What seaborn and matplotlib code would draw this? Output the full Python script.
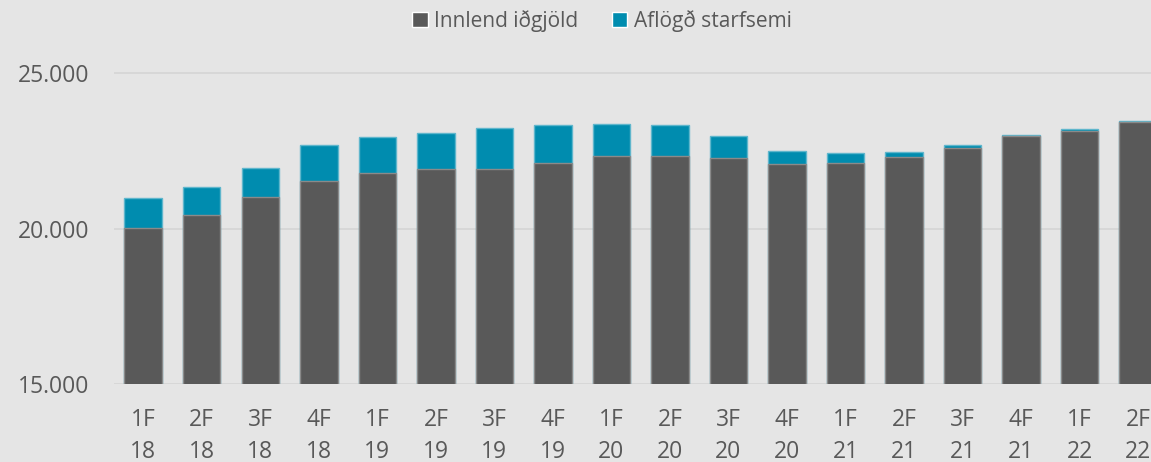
import matplotlib
matplotlib.use("Agg")
import matplotlib.pyplot as plt
import matplotlib.ticker as mticker
from matplotlib.patches import Patch
import seaborn as sns

# Quarters (F = fjórðungur) and years
quarters = ["1F", "2F", "3F", "4F", "1F", "2F", "3F", "4F", "1F", "2F",
            "3F", "4F", "1F", "2F", "3F", "4F", "1F", "2F"]
years = ["18", "18", "18", "18", "19", "19", "19", "19", "20", "20",
         "20", "20", "21", "21", "21", "21", "22", "22"]

# Values
innlend = [20020, 20420, 21000, 21520, 21790, 21900, 21930, 22100, 22320, 22340,
           22260, 22090, 22100, 22290, 22590, 22980, 23140, 23440]
aflogd = [965, 920, 955, 1170, 1150, 1180, 1300, 1220, 1040, 1000,
          730, 390, 345, 165, 85, 45, 65, 22]

labels = [q + "\n" + y for q, y in zip(quarters, years)]
totals = [a + b for a, b in zip(innlend, aflogd)]

grey = "#595959"
teal = "#008caf"
bg = "#e5e5e5"
txt = "#595959"

sns.set_theme(style="white", rc={"axes.facecolor": bg, "figure.facecolor": bg})
plt.rcParams["font.family"] = ["Open Sans", "DejaVu Sans"]

fig = plt.figure(figsize=(11.51, 4.62), dpi=100)
ax = fig.add_axes([0.099, 0.169, 0.901, 0.74])

sns.barplot(x=labels, y=totals, color=teal, width=0.64, saturation=1,
            edgecolor="#5fb6cc", linewidth=1, ax=ax)
sns.barplot(x=labels, y=innlend, color=grey, width=0.64, saturation=1,
            edgecolor="#8a8a8a", linewidth=1, ax=ax)

ax.set_ylim(15000, 26000)
ax.set_xlim(-0.5, 17.22)
ax.set_yticks([15000, 20000, 25000])
ax.yaxis.set_major_formatter(mticker.FuncFormatter(lambda v, p: f"{v:,.0f}".replace(",", ".")))
ax.grid(axis="y", color="#d6d6d6", linewidth=1.3)
ax.set_axisbelow(True)
for s in ax.spines.values():
    s.set_visible(False)
ax.tick_params(axis="both", length=0, labelsize=16.5, colors=txt)
ax.tick_params(axis="y", pad=18)
ax.tick_params(axis="x", pad=17)
for t in ax.get_xticklabels():
    t.set_linespacing(1.45)
ax.set_xlabel("")
ax.set_ylabel("")

handles = [Patch(facecolor=grey, label="Innlend iðgjöld"),
           Patch(facecolor=teal, label="Aflögð starfsemi")]
fig.legend(handles=handles, loc="center", bbox_to_anchor=(0.523, 0.955), ncol=2,
           frameon=False, fontsize=15, labelcolor=txt, handlelength=0.75,
           handleheight=0.75, handletextpad=0.3, columnspacing=1.6)

fig.savefig("out.png", dpi=100, facecolor=bg)
